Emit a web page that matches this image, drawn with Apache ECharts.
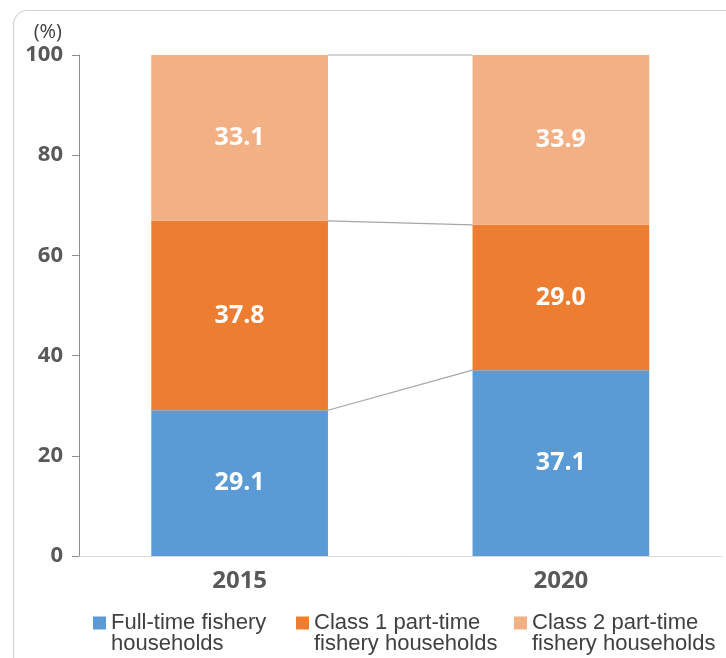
<!DOCTYPE html>
<html><head><meta charset="utf-8">
<script src="https://cdn.jsdelivr.net/npm/echarts@6/dist/echarts.min.js"></script>
<style>html,body{margin:0;padding:0;background:#fff}#c{width:726px;height:658px}</style>
</head><body><div id="c"></div>
<script>
const categories = ['2015', '2020'];
const fullTime = [29.1, 37.1];
const class1 = [37.8, 29.0];
const class2 = [33.1, 33.9];
const seriesNames = ['Full-time fishery\nhouseholds', 'Class 1 part-time\nfishery households', 'Class 2 part-time\nfishery households'];
const yTicks = [0, 20, 40, 60, 80, 100];

const colors = ['#5b9bd5', '#ed7d31', '#f2b084'];
const BAR_RATIO = 0.55;

// boundaries (cumulative tops) for connector lines
const stacks = [fullTime, class1, class2];
const boundaries = [];
for (let s = 0; s < stacks.length; s++) {
  const row = categories.map((_, i) => stacks.slice(0, s + 1).reduce((a, arr) => a + arr[i], 0));
  boundaries.push(row);
}

const chart = echarts.init(document.getElementById('c'));
const labelStyle = {show: true, color: '#fff', fontSize: 25, fontWeight: 'bold', fontFamily: 'Open Sans', formatter: p => p.value.toFixed(1)};

const legendLefts = [93, 296, 514];
const legends = seriesNames.map((n, i) => ({
  left: legendLefts[i], top: 591, padding: 0, itemWidth: 13, itemHeight: 13, icon: 'rect',
  textStyle: {fontSize: 22, color: '#404040', fontFamily: 'Liberation Sans', lineHeight: 21},
  formatter: name => '\n' + name,
  itemGap: 0, data: [n]
}));

chart.setOption({
  animation: false,
  graphic: [{type: 'rect', left: 11, top: 8, shape: {width: 740, height: 700, r: 14}, style: {fill: 'none', stroke: '#d4d4d4', lineWidth: 1.2}, z: -1}],
  grid: {left: 79, right: 4.5, top: 55, bottom: 102, containLabel: false},
  xAxis: {
    type: 'category', data: categories,
    axisLine: {show: true, lineStyle: {color: '#d9d9d9', width: 1}},
    axisTick: {show: false},
    axisLabel: {fontSize: 24, fontWeight: 'bold', color: '#595959', fontFamily: 'Open Sans', margin: 13}
  },
  yAxis: {
    type: 'value', min: 0, max: 100, interval: 20,
    name: '(%)', nameLocation: 'end', nameGap: 13,
    nameTextStyle: {fontSize: 20, color: '#404040', fontFamily: 'Open Sans', align: 'right', padding: [0, 17, 0, 0]},
    axisLine: {show: true, lineStyle: {color: '#8c8c8c', width: 1}},
    axisTick: {show: true, length: 7, lineStyle: {color: '#8c8c8c'}},
    splitLine: {show: false},
    axisLabel: {fontSize: 22, fontWeight: 'bold', color: '#595959', fontFamily: 'Open Sans', margin: 16,
      formatter: v => yTicks.includes(v) ? String(v) : ''}
  },
  legend: legends,
  series: [
    {name: seriesNames[0], type: 'bar', stack: 'a', barWidth: (BAR_RATIO * 100) + '%', data: fullTime, itemStyle: {color: colors[0]}, label: labelStyle},
    {name: seriesNames[1], type: 'bar', stack: 'a', barWidth: (BAR_RATIO * 100) + '%', data: class1, itemStyle: {color: colors[1]}, label: labelStyle},
    {name: seriesNames[2], type: 'bar', stack: 'a', barWidth: (BAR_RATIO * 100) + '%', data: class2, itemStyle: {color: colors[2]}, label: labelStyle},
    {
      type: 'custom', silent: true, z: 1,
      data: boundaries.map(r => r),
      renderItem: function (params, api) {
        const v0 = api.value(0), v1 = api.value(1);
        const p0 = api.coord([0, v0]);
        const p1 = api.coord([1, v1]);
        const half = api.size([1, 0])[0] * BAR_RATIO / 2;
        return {type: 'line', shape: {x1: p0[0] + half, y1: p0[1], x2: p1[0] - half, y2: p1[1]},
          style: {stroke: '#a6a6a6', lineWidth: 1.2}};
      },
      encode: {x: -1, y: -1}
    }
  ]
});
</script></body></html>
